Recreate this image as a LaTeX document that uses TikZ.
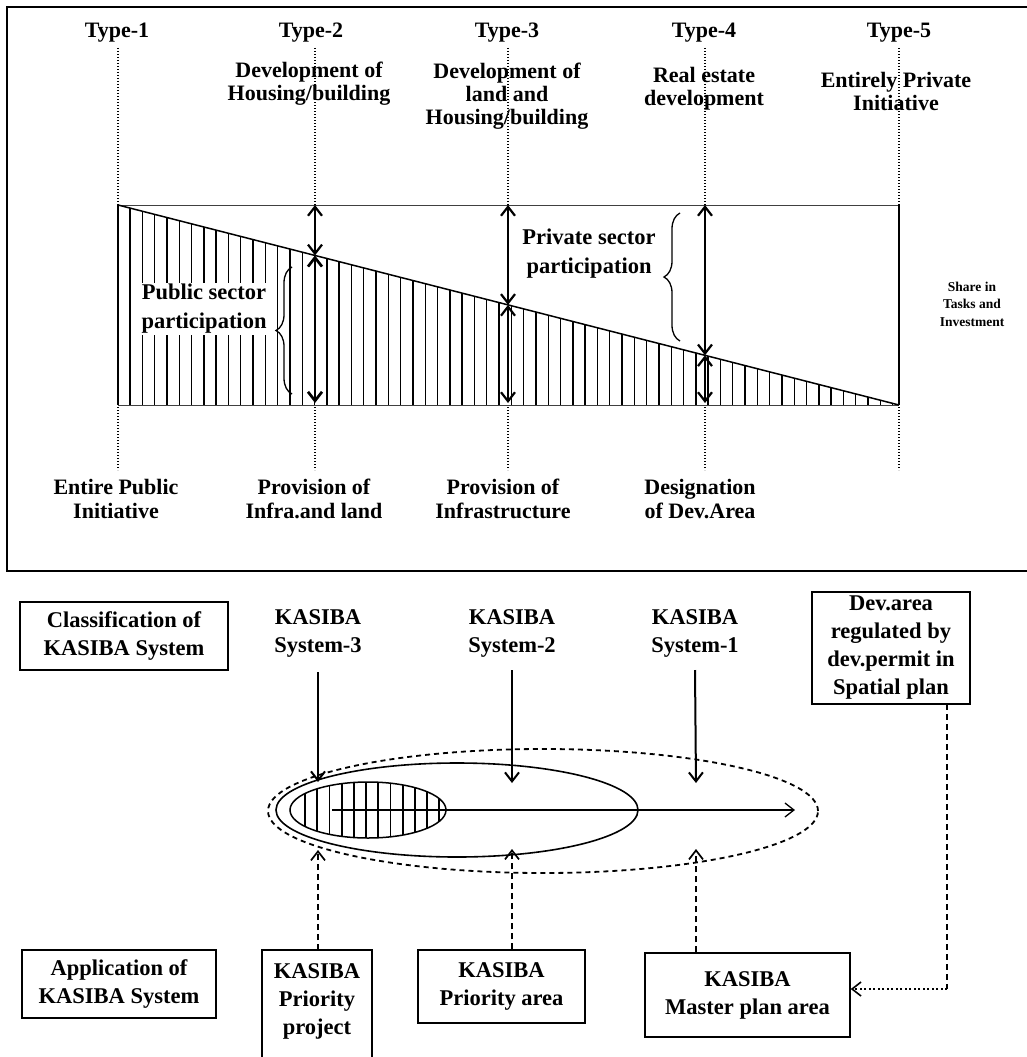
\documentclass[tikz,border=0pt]{standalone}
\usepackage{fontspec}
\setmainfont{Liberation Serif}
\usetikzlibrary{arrows.meta,decorations.pathreplacing,calc}

\begin{document}
\begin{tikzpicture}[x=1pt,y=-1pt,
  >={Straight Barb[length=9pt,width=14pt]},
  lbl/.style={font=\fontsize{22}{23}\selectfont\bfseries, align=center, inner sep=0pt},
  lblwide/.style={font=\fontsize{22}{24}\selectfont\bfseries, align=center, inner sep=0pt},
  lblb/.style={font=\fontsize{22.5}{29}\selectfont\bfseries, align=center, inner sep=1pt, fill=white},
  small/.style={font=\fontsize{13.5}{17.5}\selectfont\bfseries, align=center, inner sep=0pt},
  box/.style={draw, line width=1.5pt, align=center, inner sep=0pt,
              font=\fontsize{22.5}{28}\selectfont\bfseries},
  guide/.style={line width=1.5pt, dash pattern=on 1.3pt off 1.7pt},
  share/.style={<->, line width=2.2pt},
  hatch/.style={line width=1.4pt},
  brace/.style={decorate, decoration={brace, amplitude=16pt}, line width=1.3pt},
  sysarrow/.style={->, line width=2pt},
  apparrow/.style={->, line width=1.7pt, dash pattern=on 6pt off 4pt},
  frame/.style={line width=1.7pt}
]
\useasboundingbox (0,0) rectangle (1027,1057);
\clip (0,0) rectangle (1027,1057);

% ---------- upper panel ----------
\draw[frame] (1030,7) -- (7,7) -- (7,571) -- (1030,571);

% corners of the share rectangle and the column crossings of its diagonal
\coordinate (A) at (118,205);
\coordinate (B) at (899,205);
\coordinate (C) at (899,405);
\coordinate (D) at (118,405);
\coordinate (J2) at (315,255.4);
\coordinate (J3) at (508,304.9);
\coordinate (J4) at (705,355.3);

% type headings
\node[lbl] (t1) at (117,33) {Type-1};
\node[lbl] (t2) at (311,33) {Type-2};
\node[lbl] (t3) at (507,33) {Type-3};
\node[lbl] (t4) at (704,33) {Type-4};
\node[lbl] (t5) at (899,33) {Type-5};

% dotted guides from the headings down to the rectangle and below it
\foreach \x in {118,315,508,705,899}{
  \draw[guide] (\x,48) -- (\x,205);
  \draw[guide] (\x,407) -- (\x,470);
}

% descriptions of the types
\node[lbl] (d2) at (309,84) {Development of\\Housing/building};
\node[lbl] (d3) at (507,96) {Development of\\land and\\Housing/building};
\node[lbl] (d4) at (704,89) {Real estate\\development};
\node[lbl] (d5) at (896,91) {Entirely Private\\Initiative};

% public share (hatched triangle)
\begin{scope}
  \clip (A) -- (C) -- (D) -- cycle;
  \foreach \k in {0,...,62}
    \draw[hatch] ({130+12.3*\k},200) -- ({130+12.3*\k},410);
\end{scope}

% share rectangle
\draw[line width=0.9pt, black!75] (A) -- (B);
\draw[line width=0.9pt, black!75] (D) -- (C);
\draw[line width=2.2pt] (A) -- (D);
\draw[line width=2pt] (B) -- (C);
\draw[line width=1.5pt] (A) -- (C);

% participation arrows
\draw[share] (315,205) -- (J2);
\draw[share, line width=2.7pt] (J2) -- (315,403);
\draw[share] (508,205) -- (J3);
\draw[share] (J3) -- (508,403);
\draw[share] (705,205) -- (J4);
\draw[share] (J4) -- (705,403);

% braces and their labels
\node[lblb] (pub) at (204,309) {Public sector\\participation};
\draw[brace] (292,394) -- (292,267);
\draw[brace] (680,341) -- (680,213);
\node[lblb] (priv) at (589,254) {Private sector\\participation};

\node[small] (sh) at (972,304) {Share in\\Tasks and\\Investment};

% initiative labels below the rectangle
\node[lblwide] (b1) at (116,499) {Entire Public\\Initiative};
\node[lblwide] (b2) at (314,499) {Provision of\\Infra.and land};
\node[lblwide] (b3) at (503,499) {Provision of\\Infrastructure};
\node[lblwide] (b4) at (700,499) {Designation\\of Dev.Area};

% ---------- lower panel ----------
\node[box, minimum width=208pt, minimum height=68pt] (cls) at (124,636)
  {Classification of\\KASIBA System};
\node[box, draw=none] (s3) at (318,633) {KASIBA\\System-3};
\node[box, draw=none] (s2) at (512,633) {KASIBA\\System-2};
\node[box, draw=none] (s1) at (695,633) {KASIBA\\System-1};
\node[box, minimum width=158pt, minimum height=112pt] (dev) at (891,648)
  {Dev.area\\regulated by\\dev.permit in\\Spatial plan};

% nested development areas
\begin{scope}
  \clip (368,810) ellipse [x radius=78pt, y radius=28pt];
  \foreach \k in {0,...,11}
    \draw[line width=1.8pt] ({305+12.2*\k},770) -- ({305+12.2*\k},850);
\end{scope}
\draw[line width=1.5pt] (368,810) ellipse [x radius=78pt, y radius=28pt];
\draw[line width=1.6pt] (457,810) ellipse [x radius=181pt, y radius=47pt];
\draw[line width=1.8pt, dash pattern=on 5pt off 4pt] (543,811) ellipse [x radius=275pt, y radius=62pt];
\coordinate (grow0) at (332,810);
\coordinate (grow1) at (795,810);
\draw[->, line width=1.3pt] (grow0) -- (grow1);

% where each system points in
\coordinate (in3) at (318,782);
\coordinate (in2) at (512,783);
\coordinate (in1) at (696,783);
\coordinate (up3) at (318,850);
\coordinate (up2) at (512,849);
\coordinate (up1) at (696,849);
\draw[sysarrow] (s3 |- 0,672) -- (in3);
\draw[sysarrow] (s2 |- 0,670) -- (in2);
\draw[sysarrow] (s1 |- 0,670) -- (in1);

% application boxes
\node[box, minimum width=194pt, minimum height=68pt] (app) at (119,984)
  {Application of\\KASIBA System};
\node[box, draw=none] (pp) at (317,1001) {KASIBA\\Priority\\project};
\draw[line width=1.5pt] (262,1070) |- (372,950) -- (372,1070);
\coordinate (ppTop) at (318,950);
\node[box, minimum width=167pt, minimum height=73pt] (pa) at (501.5,986.5)
  {KASIBA\\Priority area};
\node[box, minimum width=205pt, minimum height=84pt] (mp) at (747.5,995)
  {KASIBA\\Master plan area};

\draw[apparrow] (ppTop) -- (up3);
\draw[apparrow] (up2 |- pa.north) -- (up2);
\draw[apparrow] (up1 |- mp.north) -- (up1);

% development permit link
\coordinate (devOut) at (947,704);
\coordinate (bend) at (947,989);
\draw[line width=1.6pt, dash pattern=on 6pt off 4pt] (devOut) -- (bend);
\draw[->, line width=1.6pt, dash pattern=on 2pt off 2.5pt] (bend) -- (mp.east |- bend);
\end{tikzpicture}
\end{document}
